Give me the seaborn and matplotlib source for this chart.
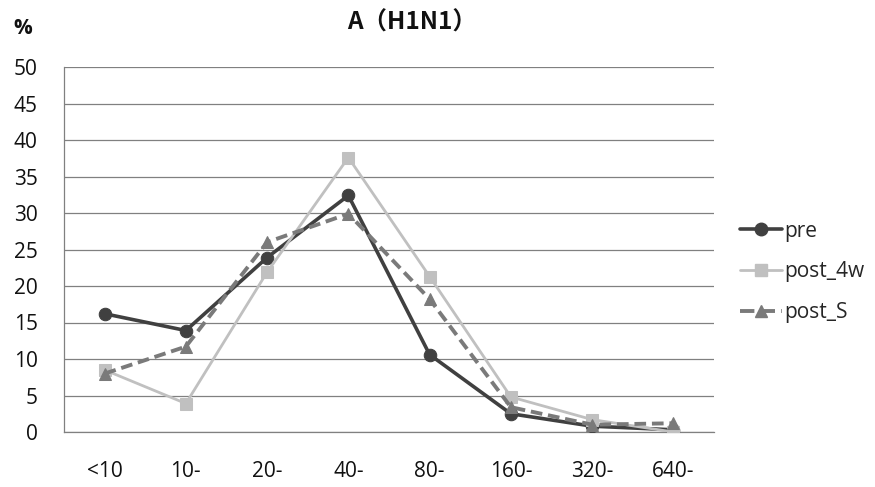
import matplotlib
matplotlib.use("Agg")
import matplotlib.pyplot as plt
import seaborn as sns
import pandas as pd
from matplotlib.lines import Line2D

categories = ["<10", "10-", "20-", "40-", "80-", "160-", "320-", "640-"]
pre = [16.2, 13.9, 23.9, 32.4, 10.6, 2.5, 0.8, 0.3]
post_4w = [8.5, 3.9, 21.9, 37.6, 21.3, 4.8, 1.7, 0.0]
post_S = [8.0, 11.7, 26.0, 29.9, 18.2, 3.4, 1.0, 1.2]
y_ticks = list(range(0, 55, 5))
title = "A（H1N1）"

sns.set_theme(style="white")
plt.rcParams["font.family"] = ["Open Sans", "Noto Sans CJK JP", "DejaVu Sans"]

fig = plt.figure(figsize=(8.75, 4.87), dpi=100)
ax = fig.add_axes([64/875, 1-432/487, 650/875, 365/487])

series = [
    ("pre", pre, "#404040", "o", 2.6, 9, "-"),
    ("post_4w", post_4w, "#c0c0c0", "s", 2.0, 9, "-"),
    ("post_S", post_S, "#7a7a7a", "^", 2.8, 9, "--"),
]
handles = []
for name, vals, col, mk, lw, ms, ls in series:
    df = pd.DataFrame({"cat": categories, "val": vals})
    sns.lineplot(data=df, x="cat", y="val", ax=ax, sort=False, color=col,
                 marker=mk, markersize=ms, linewidth=lw, linestyle=ls,
                 markeredgecolor=col, legend=False, zorder=3)
    h = Line2D([0], [0], color=col, marker=mk, markersize=ms, linewidth=lw,
               linestyle=ls, markeredgecolor=col)
    handles.append(h)
for line in ax.get_lines():
    if line.get_linestyle() == "--":
        line.set_dashes((3, 1.5))

ax.set_xlim(-0.5, 7.5)
ax.set_ylim(0, 50)
ax.set_yticks(y_ticks)
ax.yaxis.grid(True, color="#808080", linewidth=0.9)
ax.set_axisbelow(True)
for s in ["top", "right"]:
    ax.spines[s].set_visible(False)
for s in ["left", "bottom"]:
    ax.spines[s].set_color("#808080")
    ax.spines[s].set_linewidth(0.9)
ax.tick_params(axis="y", length=0, pad=19, labelsize=15, colors="#111111")
ax.tick_params(axis="x", length=0, pad=21, labelsize=15, colors="#111111")
ax.set_xlabel("")
ax.set_ylabel("")

fig.text(412/875, 1-23/487, title, ha="center", va="center", fontsize=17.5,
         fontweight="bold", family=["Noto Sans CJK JP", "DejaVu Sans"], color="#111111")
fig.text(23/875, 1-29/487, "%", ha="center", va="center", fontsize=15,
         fontweight="bold", color="#111111")

leg = fig.legend(handles, ["pre", "post_4w", "post_S"], loc="center left",
                 bbox_to_anchor=(730/875, 1-272/487), frameon=False,
                 fontsize=15, handlelength=2.0, handletextpad=0.1,
                 labelspacing=0.95, borderpad=0)

fig.savefig("out.png", dpi=100)
